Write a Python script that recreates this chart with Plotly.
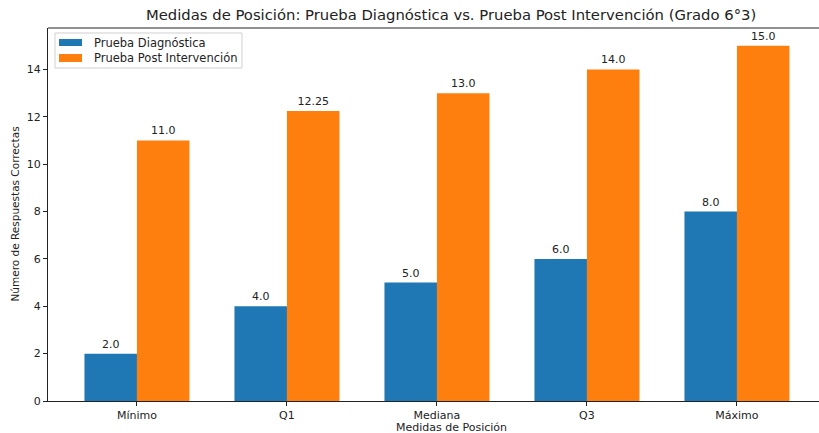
import plotly.graph_objects as go

categories = ["Mínimo", "Q1", "Mediana", "Q3", "Máximo"]
diagnostica = [2.0, 4.0, 5.0, 6.0, 8.0]
post = [11.0, 12.25, 13.0, 14.0, 15.0]
yticks = [0, 2, 4, 6, 8, 10, 12, 14]
series_names = ["Prueba Diagnóstica", "Prueba Post Intervención"]
colors = ["#1f77b4", "#ff7f0e"]

x = list(range(len(categories)))
w = 0.35
font = "DejaVu Sans"

fig = go.Figure()
for vals, name, col, off in [(diagnostica, series_names[0], colors[0], -w / 2),
                             (post, series_names[1], colors[1], w / 2)]:
    fig.add_trace(go.Bar(
        x=[i + off for i in x], y=vals, width=w, name=name,
        marker=dict(color=col, line=dict(width=0)),
        text=[f"{v}" for v in vals], textposition="outside",
        textfont=dict(size=11, color="#222"), cliponaxis=False,
    ))

# custom legend (matplotlib-like)
shapes = [
    dict(type="line", xref="paper", yref="paper", x0=0, x1=1, y0=1, y1=1,
         line=dict(color="#222", width=1)),
    dict(type="rect", xref="paper", yref="paper", x0=0.0091, x1=0.2516, y0=0.8928, y1=0.9866,
         fillcolor="rgba(255,255,255,0.8)", line=dict(color="#d0d0d0", width=1)),
]
legend_rows = [(0.9517, 0.9705, 0.9598), (0.9088, 0.9303, 0.9196)]
annotations = []
for (y0, y1, yt), name, col in zip(legend_rows, series_names, colors):
    shapes.append(dict(type="rect", xref="paper", yref="paper", x0=0.0143, x1=0.0441,
                       y0=y0, y1=y1, fillcolor=col, line=dict(width=0)))
    annotations.append(dict(text=name, xref="paper", yref="paper", x=0.0571, y=yt,
                            xanchor="left", yanchor="middle", showarrow=False,
                            font=dict(size=11.5, color="#222")))

annotations += [
    dict(text="Medidas de Posición: Prueba Diagnóstica vs. Prueba Post Intervención (Grado 6°3)",
         xref="paper", yref="paper", x=0.523, y=1, yshift=3, xanchor="center", yanchor="bottom",
         showarrow=False, font=dict(size=14.8, color="#222")),
    dict(text="Medidas de Posición", xref="paper", yref="paper", x=0.523, y=0, yshift=-18,
         xanchor="center", yanchor="top", showarrow=False, font=dict(size=11, color="#222")),
    dict(text="Número de Respuestas Correctas", xref="paper", yref="paper", x=0, xshift=-34,
         y=0.5, xanchor="center", yanchor="middle", textangle=-90, showarrow=False,
         font=dict(size=10.5, color="#222")),
]

fig.update_layout(
    width=819, height=433, autosize=False,
    margin=dict(l=48, r=0, t=28, b=32, autoexpand=False),
    paper_bgcolor="white", plot_bgcolor="white",
    font=dict(family=font, size=11, color="#222"),
    barmode="overlay", showlegend=False,
    xaxis=dict(range=[-0.593, 4.547], tickmode="array", tickvals=x, ticktext=categories,
               showline=True, linecolor="#222", linewidth=1, mirror=False, automargin=False,
               ticks="outside", ticklen=4, tickcolor="#222", showgrid=False, zeroline=False,
               tickfont=dict(size=11)),
    yaxis=dict(range=[0, 15.75], tickmode="array", tickvals=yticks, automargin=False,
               showline=True, linecolor="#222", linewidth=1,
               ticks="outside", ticklen=4, tickcolor="#222", showgrid=False, zeroline=False,
               tickfont=dict(size=11)),
    shapes=shapes,
    annotations=annotations,
)

fig.write_html("out.html", config={"displayModeBar": False},
               post_script="document.body.style.margin='0';document.body.style.overflow='hidden';")
